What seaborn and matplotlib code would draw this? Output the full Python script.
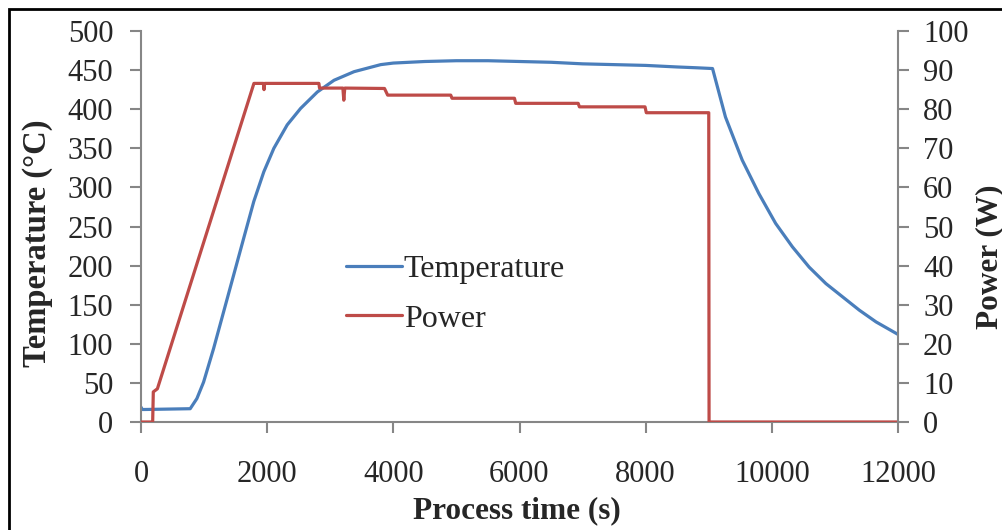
import matplotlib
matplotlib.use("Agg")
import matplotlib.pyplot as plt
import seaborn as sns
import pandas as pd
from matplotlib.patches import Rectangle

# ---------------- data ----------------
temp_time = [0, 20, 60, 780, 886, 992, 1151, 1310, 1469, 1628, 1788, 1947, 2106,
             2318, 2530, 2795, 3060, 3378, 3800, 4000, 4500, 5000, 5500, 6000,
             6500, 7000, 7500, 8000, 8500, 8800, 9060, 9265, 9530, 9795, 10060,
             10326, 10592, 10857, 11122, 11387, 11652, 12000]
temp_c = [19, 16, 16, 17, 30, 51, 94, 141, 188, 235, 282, 320, 350,
          380, 401, 422, 437, 448, 457, 459, 461, 462, 462, 461,
          460, 458, 457, 456, 454, 453, 452, 390, 335, 292, 254,
          224, 198, 177, 160, 143, 128, 112]

power_time = [0, 185, 195, 260, 1790, 1940, 1950, 1960, 2820, 2830, 3200, 3215,
              3230, 3860, 3910, 4910, 4930, 5920, 5940, 6930, 6950, 7990, 8010,
              9000, 9005, 12000]
power_w = [0, 0, 7.7, 8.5, 86.6, 86.6, 85.0, 86.6, 86.6, 85.4, 85.4, 82.3,
           85.4, 85.3, 83.6, 83.6, 82.8, 82.8, 81.5, 81.5, 80.6, 80.6, 79.1,
           79.1, 0, 0]

x_ticks = [0, 2000, 4000, 6000, 8000, 10000, 12000]
temp_ticks = [0, 50, 100, 150, 200, 250, 300, 350, 400, 450, 500]
power_ticks = [0, 10, 20, 30, 40, 50, 60, 70, 80, 90, 100]

# ---------------- style ----------------
sns.set_style("white")
plt.rcParams["font.family"] = ["Liberation Serif", "DejaVu Serif"]

BLUE = "#4A7EBB"
RED = "#BE4B48"
GRAY = "#868686"
FS_TICK = 22
FS_LEG = 23
FS_LAB = 22.5

df_t = pd.DataFrame({"time": temp_time, "val": temp_c})
df_p = pd.DataFrame({"time": power_time, "val": power_w})

fig = plt.figure(figsize=(10.03, 5.30), dpi=100)
ax = fig.add_axes([141 / 1003, 1 - 422 / 530, (898 - 141) / 1003, (422 - 31) / 530])
ax2 = ax.twinx()

sns.lineplot(data=df_t, x="time", y="val", ax=ax, color=BLUE, lw=2.3,
             label="Temperature", legend=False, sort=False, estimator=None)
sns.lineplot(data=df_p, x="time", y="val", ax=ax2, color=RED, lw=2.3,
             label="Power", legend=False, sort=False, estimator=None)

ax.set_xlim(0, 12000)
ax.set_ylim(0, 500)
ax2.set_ylim(0, 100)
ax.set_xticks(x_ticks)
ax.set_yticks(temp_ticks)
ax2.set_yticks(power_ticks)

for a in (ax, ax2):
    for s in a.spines.values():
        s.set_color(GRAY)
        s.set_linewidth(1.5)
    a.spines["top"].set_visible(False)
    a.set_xlabel("")
    a.set_ylabel("")

ax.spines["right"].set_visible(False)
ax2.spines["left"].set_visible(False)
ax2.spines["bottom"].set_visible(False)

ax.tick_params(axis="x", direction="out", length=8, width=1.5, color=GRAY,
               labelsize=FS_TICK, pad=19, bottom=True)
ax.tick_params(axis="y", direction="out", length=8, width=1.5, color=GRAY,
               labelsize=FS_TICK, pad=12, left=True)
ax2.tick_params(axis="y", direction="out", length=8, width=1.5, color=GRAY,
                labelsize=FS_TICK, pad=10, right=True)

fig.text(517 / 1003, 1 - 511 / 530, "Process time (s)", ha="center", va="center",
         fontsize=FS_LAB, fontweight="bold")
fig.text(38 / 1003, 1 - 243 / 530, "Temperature (\u00b0C)", ha="center", va="center",
         rotation=90, fontsize=FS_LAB + 1, fontweight="bold")
fig.text(990 / 1003, 1 - 257 / 530, "Power (W)", ha="center", va="center",
         rotation=90, fontsize=FS_LAB, fontweight="bold")

h1, l1 = ax.get_legend_handles_labels()
h2, l2 = ax2.get_legend_handles_labels()
leg = ax2.legend(h1 + h2, l1 + l2, loc="upper left",
                 bbox_to_anchor=(346 / 1003, 1 - 255 / 530),
                 bbox_transform=fig.transFigure, frameon=False, fontsize=FS_LEG,
                 handlelength=1.75, handletextpad=0.06, labelspacing=0.62,
                 borderpad=0, borderaxespad=0)

fig.patches.append(Rectangle((9 / 1003, -0.2), 1.2, 1.2 - 9 / 530,
                             transform=fig.transFigure, fill=False,
                             edgecolor="black", lw=2, clip_on=False))

fig.savefig("out.png", dpi=100)
